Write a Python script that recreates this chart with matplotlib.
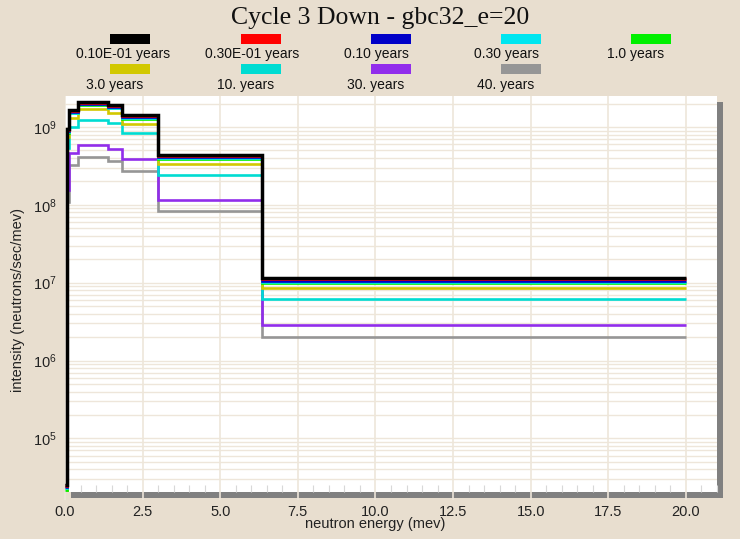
import matplotlib
matplotlib.use('Agg')
import matplotlib.pyplot as plt
from matplotlib.patches import Rectangle
from matplotlib.ticker import MultipleLocator, LogLocator, NullFormatter, FormatStrFormatter

# ---------------- data ----------------
edges = [0.0, 0.05, 0.12, 0.41, 1.4, 1.83, 3.0, 6.35, 20.0]

labels = ["0.10E-01 years", "0.30E-01 years", "0.10 years", "0.30 years", "1.0 years",
          "3.0 years", "10. years", "30. years", "40. years"]
colors = ["#000000", "#FF0000", "#0000C8", "#00E6F0", "#00F000",
          "#D2C800", "#00DCD2", "#912DEB", "#969696"]

y_001 = [2.5e4, 9.4e8, 1.64e9, 2.10e9, 1.90e9, 1.42e9, 4.35e8, 1.135e7]
y_003 = [2.45e4, 9.25e8, 1.61e9, 2.06e9, 1.86e9, 1.39e9, 4.27e8, 1.11e7]
y_010 = [2.4e4, 8.9e8, 1.56e9, 1.99e9, 1.80e9, 1.34e9, 4.13e8, 1.057e7]
y_030 = [2.3e4, 8.6e8, 1.53e9, 1.95e9, 1.77e9, 1.30e9, 3.97e8, 1.02e7]
y_1 = [2.2e4, 8.3e8, 1.50e9, 1.90e9, 1.73e9, 1.26e9, 3.83e8, 9.8e6]
y_3 = [1.95e4, 7.4e8, 1.32e9, 1.68e9, 1.52e9, 1.09e9, 3.33e8, 8.45e6]
y_10 = [1.4e4, 5.4e8, 9.86e8, 1.22e9, 1.11e9, 8.26e8, 2.40e8, 6.11e6]
y_30 = [6.5e3, 1.55e8, 4.66e8, 5.84e8, 5.19e8, 3.86e8, 1.17e8, 2.86e6]
y_40 = [4.6e3, 1.08e8, 3.24e8, 4.13e8, 3.67e8, 2.71e8, 8.3e7, 2.0e6]
series = [y_001, y_003, y_010, y_030, y_1, y_3, y_10, y_30, y_40]

title = "Cycle 3 Down - gbc32_e=20"
xlabel = "neutron energy (mev)"
ylabel = "intensity (neutrons/sec/mev)"

# ---------------- style ----------------
W, H = 740, 539
bg = "#E8DECF"
gc = "#EEE6DA"
plt.rcParams['font.family'] = ['Liberation Sans', 'DejaVu Sans']

fig = plt.figure(figsize=(W / 100, H / 100), dpi=100)
fig.patch.set_facecolor(bg)

L, R, T, B = 65, 717, 96, 492
def fx(x):
    return x / W
def fy(y):
    return 1 - y / H

ax = fig.add_axes([fx(L), fy(B), (R - L) / W, (B - T) / H])
ax.set_facecolor('white')
shadow = Rectangle((fx(L + 5.5), fy(B + 6)), (R - L) / W, (B - T) / H,
                   transform=fig.transFigure, facecolor='#808080', edgecolor='none', zorder=-1)
fig.patches.append(shadow)

ax.set_yscale('log')
ax.set_xlim(0, 21)
ax.set_ylim(2.05e4, 2.5e9)

for i in reversed(range(len(series))):
    ax.stairs(series[i], edges, baseline=None, edgecolor=colors[i],
              linewidth=2.5 if i == 0 else 1.9, joinstyle='miter', zorder=3 + (len(series) - i))

ax.set_axisbelow(True)
ax.xaxis.set_major_locator(MultipleLocator(2.5))
ax.xaxis.set_minor_locator(MultipleLocator(0.5))
ax.xaxis.set_major_formatter(FormatStrFormatter('%.1f'))
ax.yaxis.set_major_locator(LogLocator(base=10, numticks=20))
ax.yaxis.set_minor_locator(LogLocator(base=10, subs=range(2, 10), numticks=20))
ax.yaxis.set_minor_formatter(NullFormatter())
ax.grid(True, which='major', axis='x', color=gc, lw=1.2)
ax.grid(True, which='both', axis='y', color=gc, lw=1.0)

ax.tick_params(axis='y', which='both', length=0, pad=6, labelsize=10.5, colors='#222222')
ax.tick_params(axis='x', which='major', direction='out', length=6, width=1.2, color=gc,
               pad=3, labelsize=10.5, labelcolor='#222222')
ax.tick_params(axis='x', which='minor', direction='in', length=5, width=0.8, color='#D8D8D8')
for s in ax.spines.values():
    s.set_visible(False)

# titles & labels
fig.text(fx(380), fy(18), title, family='Liberation Serif', fontsize=18.5,
         ha='center', va='center', color='#111111')
fig.text(fx(375), fy(524), xlabel, fontsize=10.5, ha='center', va='center', color='#222222')
fig.text(fx(18), fy(300), ylabel, fontsize=10.5, rotation=90, ha='center', va='center', color='#222222')

# legend
sw_x = [130, 260.5, 391, 521, 651, 130, 260.5, 391, 521]
sw_y = [39, 39, 39, 39, 39, 69, 69, 69, 69]
tx_x = [123, 252.6, 376, 506, 636, 115, 246, 376, 506]
tx_y = [54, 54, 54, 54, 54, 85, 85, 85, 85]
for i in range(len(labels)):
    fig.patches.append(Rectangle((fx(sw_x[i] - 20), fy(sw_y[i] + 5)), 40 / W, 10 / H,
                                 transform=fig.transFigure, facecolor=colors[i],
                                 edgecolor='none'))
    fig.text(fx(tx_x[i]), fy(tx_y[i]), labels[i], fontsize=10, ha='center', va='center',
             color='#111111')

fig.savefig('out.png', dpi=100, facecolor=bg)
